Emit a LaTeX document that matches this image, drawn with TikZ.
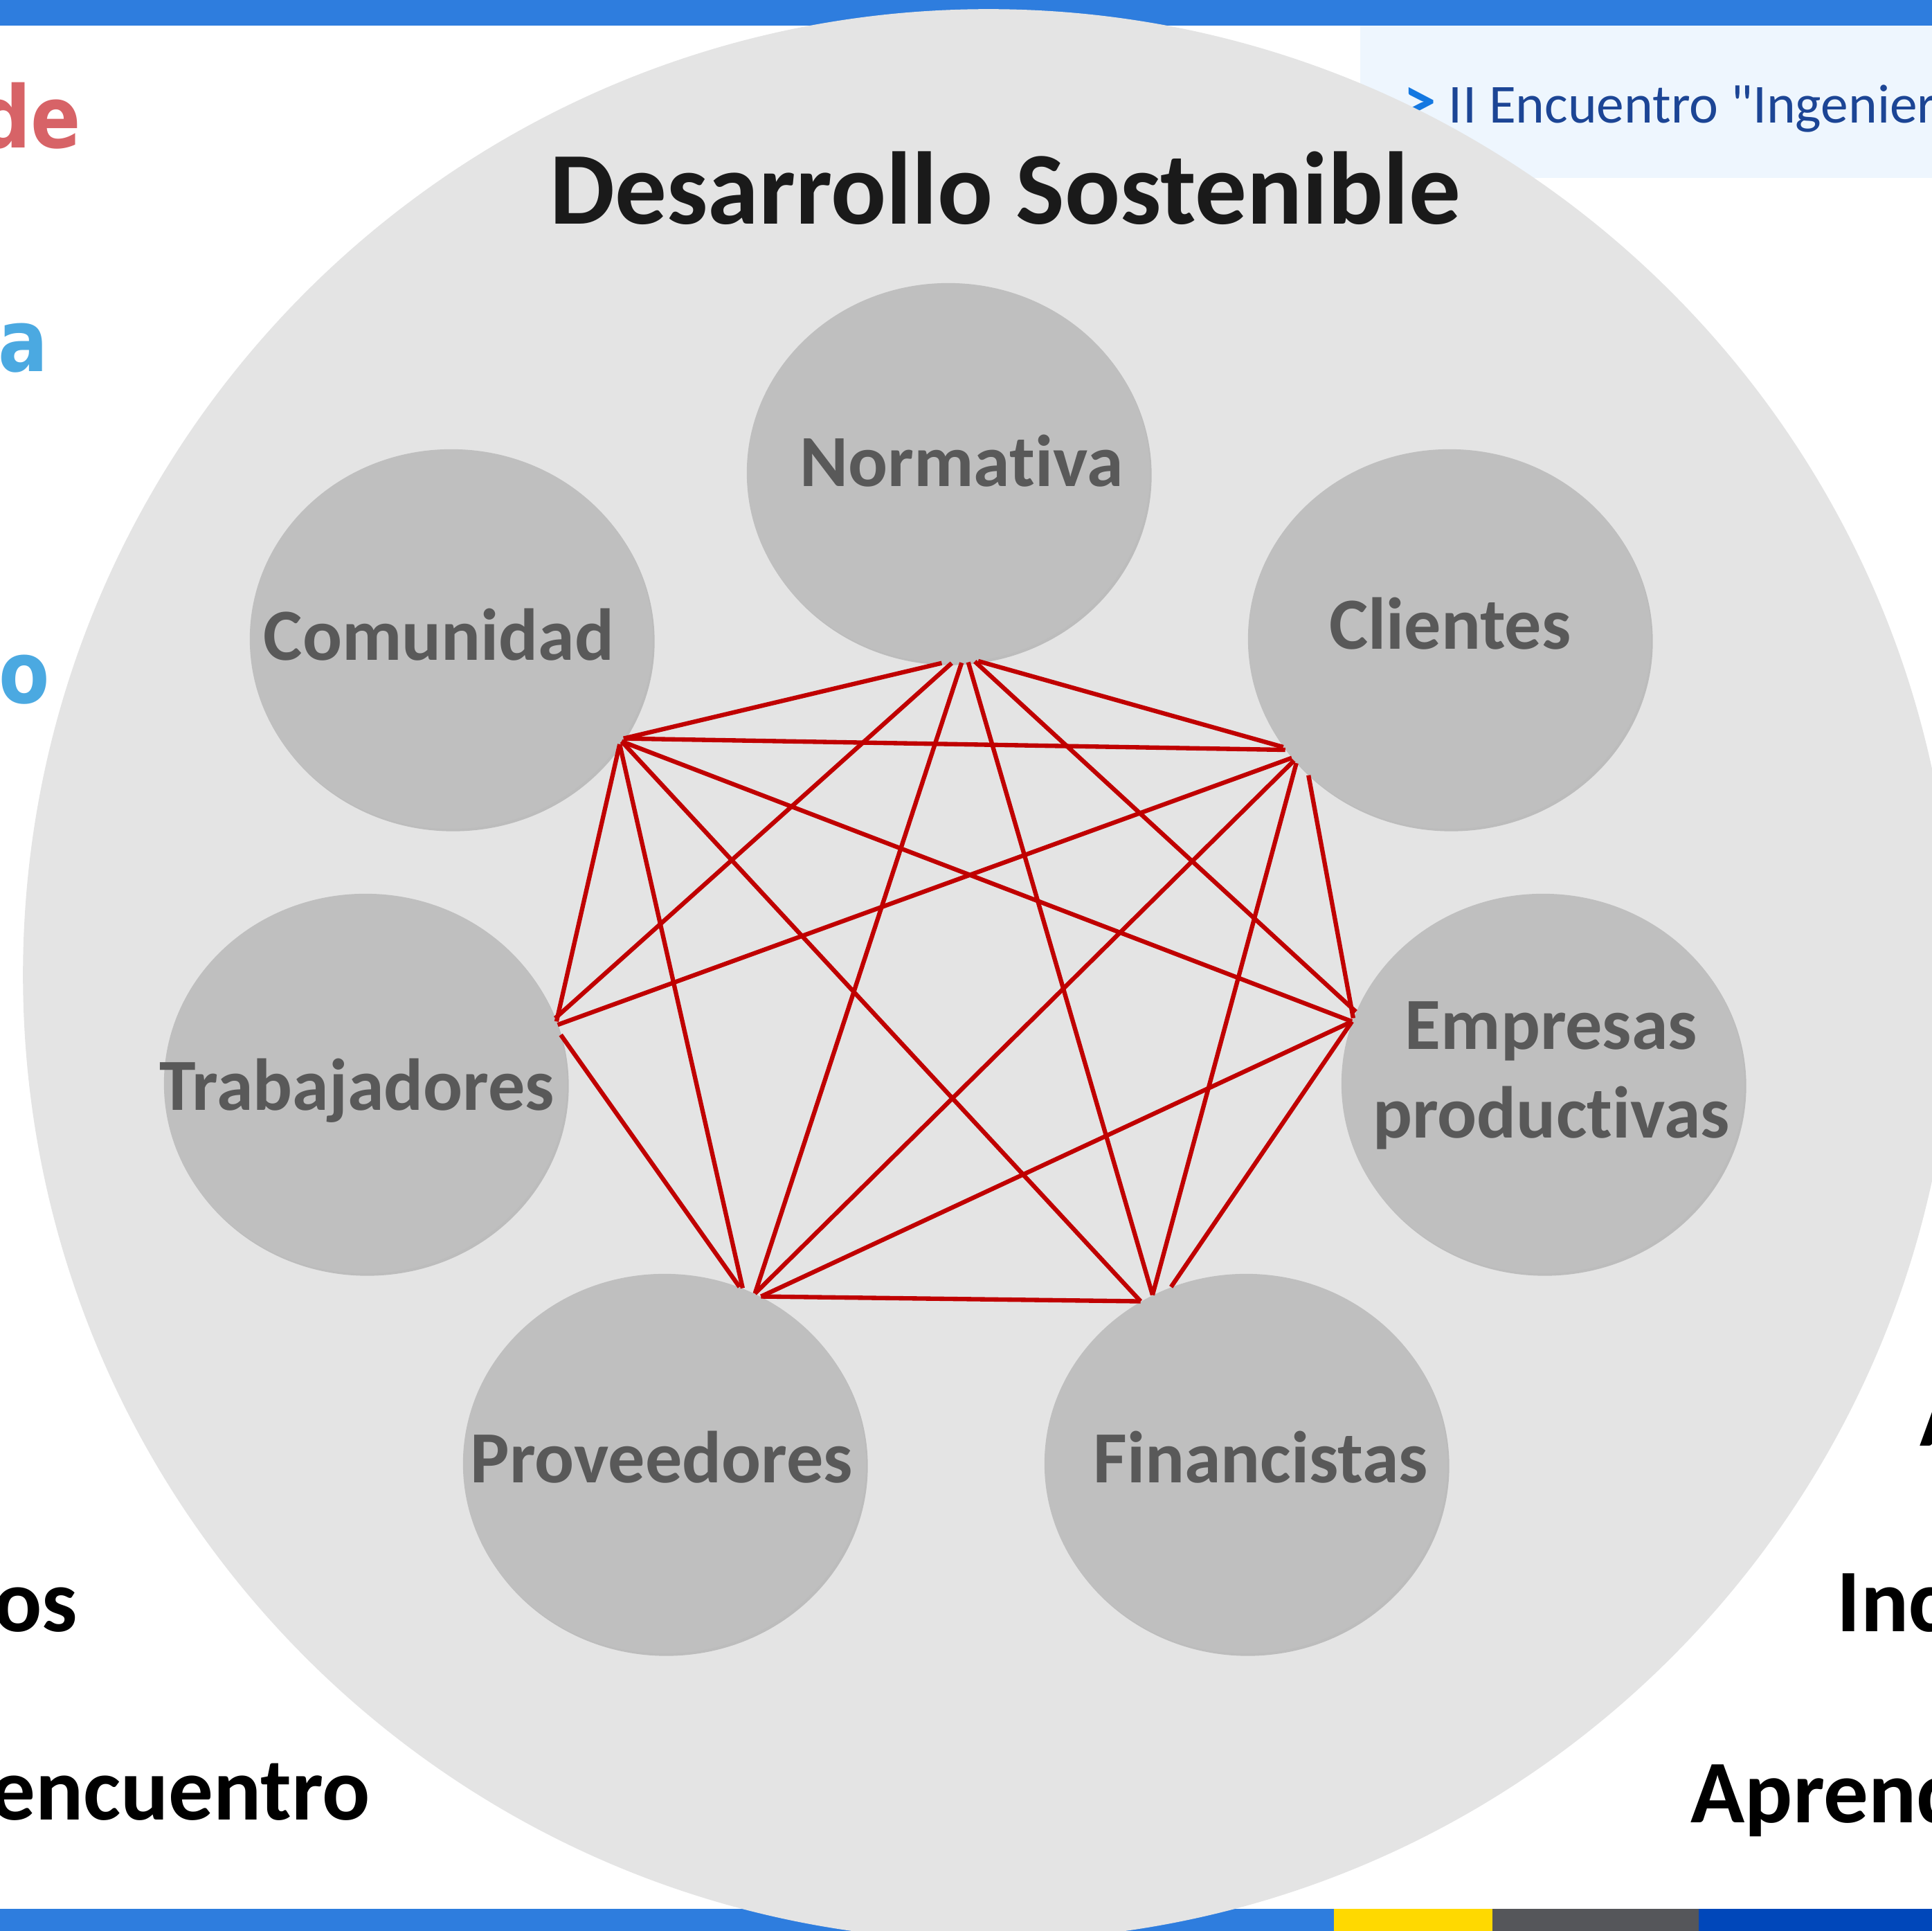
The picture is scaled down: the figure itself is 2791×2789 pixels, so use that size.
\documentclass[tikz,border=0pt]{standalone}
\usepackage{fontspec}
\setmainfont{Carlito}[Ligatures={NoCommon}]
\newfontfamily\dejavu{DejaVu Sans}[FakeStretch=0.86]
\usetikzlibrary{shapes.geometric,shadows}

\definecolor{barblue}{RGB}{46,125,222}
\definecolor{baryellow}{RGB}{255,217,0}
\definecolor{bargray}{RGB}{85,86,90}
\definecolor{bardark}{RGB}{0,71,186}
\definecolor{boxfill}{RGB}{238,246,254}
\definecolor{boxtext}{RGB}{28,69,149}
\definecolor{chevron}{RGB}{20,120,225}
\definecolor{bigfill}{RGB}{228,228,228}
\definecolor{actorfill}{RGB}{191,191,191}
\definecolor{actortext}{RGB}{89,89,89}
\definecolor{titletext}{RGB}{26,26,26}
\definecolor{linkred}{RGB}{192,0,0}
\definecolor{sidered}{RGB}{215,99,103}
\definecolor{sideblue}{RGB}{75,169,225}

\begin{document}
\begin{tikzpicture}[x=0.01cm,y=-0.01cm,
  actor/.style={ellipse, fill=actorfill, minimum width=5.82cm, minimum height=5.48cm, inner sep=0pt,
    drop shadow={shadow xshift=0.025cm, shadow yshift=-0.035cm, opacity=0.35, fill=black!55}},
  actorlbl/.style={text=actortext, font=\bfseries\fontsize{30.2}{36.4}\selectfont, inner sep=0pt, align=center},
  link/.style={draw=linkred, line width=1.8pt},
  sidetext/.style={font=\bfseries\fontsize{36.7}{44}\selectfont, inner sep=0pt},
  sidewide/.style={font=\dejavu\bfseries\fontsize{35.3}{42}\selectfont, inner sep=0pt}]

\useasboundingbox (0,0) rectangle (2791,2789);
\clip (0,0) rectangle (2791,2789);

%Shape: Rectangle (bars)
\fill[barblue] (0,0) rectangle (2791,37);
\fill[barblue] (0,2757) rectangle (1927,2789);
\fill[baryellow] (1927,2757) rectangle (2156,2789);
\fill[bargray] (2156,2757) rectangle (2454,2789);
\fill[bardark] (2454,2757) rectangle (2791,2789);
%Shape: Rectangle (header box)
\fill[boxfill] (1965,37) rectangle (2791,257);

% Text Node
\node[anchor=base west, inner sep=0pt, text=boxtext, font=\fontsize{22.6}{28}\selectfont] (encuentro) at (2027,178) {{\color{chevron}\fontsize{27}{28}\selectfont\textbf{>}}\ II Encuentro \textquotedbl Ingenier};

% Text Node (left margin)
\node[sidewide, text=sidered, anchor=base east] (izqde) at (118,214) {de};
\node[sidewide, text=sideblue, anchor=base east] (izqa) at (70,537) {a};
\node[sidewide, text=sideblue, anchor=base east] (izqo) at (73,1016) {o};
\node[sidetext, anchor=base east] (izqos) at (113,2356) {os};
\node[sidetext, anchor=base east] (izqenc) at (536,2628) {encuentro};
% Text Node (right margin)
\node[sidetext, anchor=base west] (derA) at (2773,2088) {A};
\node[sidetext, anchor=base west] (derInc) at (2653,2356) {Inc};
\node[sidetext, anchor=base west] (derApr) at (2442,2632) {Aprend};

%Shape: Circle
\node[circle, fill=bigfill, minimum size=27.88cm, inner sep=0pt] (sost) at (1428,1408) {};

% Text Node
\node[anchor=base, inner sep=0pt, text=titletext, font=\bfseries\fontsize{42.4}{50}\selectfont] (titulo) at (1452,324) {Desarrollo Sostenible};

%Shape: Ellipse
\node[actor] (norm) at (1370,683) {};
\node[actor] (comu) at (652,923) {};
\node[actor] (clie) at (2094,923) {};
\node[actor] (trab) at (528,1565) {};
\node[actor] (empr) at (2229,1565) {};
\node[actor] (prov) at (960,2114) {};
\node[actor] (fina) at (1800,2114) {};

% Text Node
\node[actorlbl, anchor=base] (normT) at ([shift={(19,20)}]norm.center) {Normativa};
\node[actorlbl, anchor=base] (comuT) at ([shift={(-18,31)}]comu.center) {Comunidad};
\node[actorlbl, anchor=base] (clieT) at ([shift={(1,15)}]clie.center) {Clientes};
\node[actorlbl, anchor=base] (trabT) at ([shift={(-12,38)}]trab.center) {Trabajadores};
\node[actorlbl] (emprT) at ([shift={(12,-12)}]empr.center) {Empresas\\productivas};
\node[actorlbl, anchor=base] (provT) at ([shift={(-4,27)}]prov.center) {Proveedores};
\node[actorlbl, anchor=base] (finaT) at ([shift={(21,27)}]fina.center) {Financistas};

%Straight Lines
\draw[link] (norm.268) -- (comu.330);
\draw[link] (comu.330) -- (clie.214);
\draw[link] (comu.329) -- (empr.162);
\draw[link] (comu.329) -- (fina.123);
\draw[link] (comu.328) -- (prov.66);
\draw[link] (comu.328) -- (trab.18);
\draw[link] (norm.271) -- (trab.19);
\draw[link] (norm.274) -- (prov.62);
\draw[link] (norm.276) -- (fina.119);
\draw[link] (norm.278) -- (empr.159);
\draw[link] (norm.279) -- (clie.213);
\draw[link] (clie.217) -- (trab.17);
\draw[link] (clie.218) -- (prov.62);
\draw[link] (clie.219) -- (fina.119);
\draw[link] (clie.224) -- (empr.161);
\draw[link] (empr.162) -- (prov.60);
\draw[link] (empr.162) -- (fina.113);
\draw[link] (trab.14) -- (prov.67);
\draw[link] (prov.60) -- (fina.123);

\end{tikzpicture}
\end{document}
